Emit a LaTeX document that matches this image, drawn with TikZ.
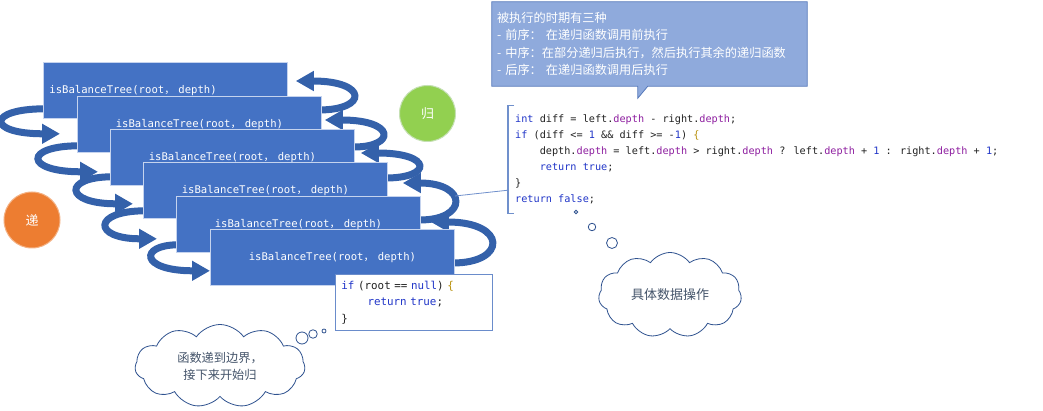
\documentclass[tikz,border=0pt]{standalone}
\usepackage{fontspec}
\usetikzlibrary{arrows.meta,calc,shapes.symbols,backgrounds}
\newfontfamily\cjk{Noto Sans CJK SC}
\newfontfamily\codefont{DejaVu Sans Mono}
\definecolor{boxblue}{HTML}{4472C4}
\definecolor{boxedge}{HTML}{C5D3EE}
\definecolor{spinc}{HTML}{3461AA}
\definecolor{callfill}{HTML}{8FAADC}
\definecolor{calledge}{HTML}{5679BA}
\definecolor{kwc}{HTML}{2035C8}
\definecolor{memc}{HTML}{8E1FA0}
\definecolor{brc}{HTML}{B8900A}
\definecolor{codec}{HTML}{222222}
\definecolor{orangec}{HTML}{ED7D31}
\definecolor{orangeedge}{HTML}{F4B183}
\definecolor{greenc}{HTML}{92D050}
\definecolor{greenedge}{HTML}{C5E0B4}
\definecolor{cloudedge}{HTML}{2F528F}
\definecolor{cloudtext}{HTML}{44546A}
\definecolor{brkc}{HTML}{7090CC}
\definecolor{baseedge}{HTML}{6A8CCB}
\newcommand\ckw[1]{\textcolor{kwc}{#1}}
\newcommand\cmem[1]{\textcolor{memc}{#1}}
\newcommand\cbr[1]{\textcolor{brc}{#1}}
\newcommand\codeind{\phantom{0000}}
\newcommand\calltxt{isBalanceTree(root{\cjk ，} depth)}
% left spiral arrow: box, tail dy, control x, tip x, tip y (relative to box south west)
\newcommand\leftspin[5]{\draw[spin] ($(#1.south west)+(2,#2)$) .. controls ($(#1.south west)+(#3,#2)$) and ($(#1.south west)+(#3,#5)$) .. ($(#1.south west)+(#4,#5)$);}
% right spiral arrow: box, tail x, tail y, control x, tip x, tip y (relative to box north east)
\newcommand\rightspin[6]{\draw[spin] ($(#1.north east)+(#2,#3)$) .. controls ($(#1.north east)+(#4,#3)$) and ($(#1.north east)+(#4,#6)$) .. ($(#1.north east)+(#5,#6)$);}
\tikzset{
  stackbox/.style={rectangle, fill=boxblue, draw=boxedge, line width=0.8pt,
    minimum width=244, minimum height=56, text width=232, inner xsep=6, inner ysep=0,
    text=white, font=\codefont\fontsize{10.6}{12}\selectfont, anchor=north west, align=center},
  spin/.style={draw=spinc, line width=7pt, -{Triangle[length=18pt,width=19pt]}},
  codeblock/.style={anchor=west, inner sep=0, minimum height=107, align=left, text=codec,
    font=\codefont\fontsize{10.2}{16}\selectfont},
  basebox/.style={rectangle, draw=baseedge, line width=0.9pt, fill=white, minimum width=157,
    minimum height=56, text width=145, inner xsep=6, inner ysep=0, align=left, text=codec,
    font=\codefont\fontsize{10.85}{16.5}\selectfont, anchor=north west},
  roundtag/.style={circle, minimum size=56, line width=1pt, text=white, inner sep=0,
    font=\cjk\fontsize{13}{13}\selectfont},
  cloudbox/.style={cloud, cloud puffs=11, cloud puff arc=110, cloud ignores aspect,
    draw=cloudedge, line width=0.8pt, fill=white, align=center, text=cloudtext, inner sep=0},
  bubble/.style={circle, draw=cloudedge, line width=0.8pt, fill=white, inner sep=0},
  calloutbox/.style={rectangle, minimum width=315, minimum height=84, text width=305,
    inner xsep=5, inner ysep=0, align=left, text=white,
    font=\cjk\fontsize{12.2}{17.5}\selectfont},
}
\begin{document}
\begin{tikzpicture}[x=1pt,y=-1pt]
\useasboundingbox (0,0) rectangle (1043,411);

% stacked call boxes
\node[stackbox, align=left] (b1) at (43,62) {\calltxt};
\node[stackbox] (b2) at (77,96) {\calltxt};
\node[stackbox] (b3) at (110,129) {\calltxt};
\node[stackbox] (b4) at (143,162) {\calltxt};
\node[stackbox] (b5) at (176,196) {\calltxt};
\node[stackbox] (b6) at (210,229) {\calltxt};

% base case code
\node[basebox] (base) at (335,274) {\ckw{if} (root == \ckw{null}) \cbr{\{}\\
\codeind\ckw{return} \ckw{true};\\
\}};

% code block with bracket
\node[codeblock] (code) at (515,159.5) {\ckw{int} diff = left.\cmem{depth} - right.\cmem{depth};\\
\ckw{if} (diff <= \ckw{1} \&\& diff >= -\ckw{1}) \cbr{\{}\\
\codeind depth.\cmem{depth} = left.\cmem{depth} > right.\cmem{depth} ? left.\cmem{depth} + \ckw{1} : right.\cmem{depth} + \ckw{1};\\
\codeind\ckw{return} \ckw{true};\\
\}\\
\ckw{return} \ckw{false};};
\draw[brkc, line width=1.1pt] ($(code.north west)+(-1,0)$) -- ($(code.north west)+(-7,0)$) -- ($(code.south west)+(-7,0)$) -- ($(code.south west)+(-1,0)$);
\coordinate (lead) at (455,196);
\draw[brkc, line width=0.8pt] (lead) -- ($(code.south west)+(-7,-23)$);

% round tags
\node[roundtag, fill=orangec, draw=orangeedge] (di) at (32,220) {递};
\node[roundtag, fill=greenc, draw=greenedge] (gui) at (427.5,113.5) {归};

% clouds
\node[cloudbox, minimum width=170, minimum height=83, font=\cjk\fontsize{12.2}{17}\selectfont] (c1) at (220,366) {函数递到边界，\\接下来开始归};
\node[bubble, minimum size=12] (c1a) at (302,338) {};
\node[bubble, minimum size=8.5] (c1b) at (313,334) {};
\node[bubble, minimum size=4] (c1c) at (324,331) {};

\node[cloudbox, minimum width=143, minimum height=85, font=\cjk\fontsize{13}{13}\selectfont] (c2) at (670,295) {具体数据操作};
\node[bubble, minimum size=3.5] (c2a) at (576,212) {};
\node[bubble, minimum size=7.5] (c2b) at (592,227) {};
\node[bubble, minimum size=11] (c2c) at (612,243) {};

% callout
\node[calloutbox] (callout) at (649.5,44) {被执行的时期有三种\\- 前序： 在递归函数调用前执行\\- 中序：在部分递归后执行，然后执行其余的递归函数\\- 后序： 在递归函数调用后执行};

\begin{scope}[on background layer]
\fill[white] (0,0) rectangle (1043,411);
\filldraw[fill=callfill, draw=calledge, line width=0.8pt] (callout.north west) -- (callout.north east) -- (callout.south east) -- ($(callout.south west)+(156,0)$) -- ($(callout.south west)+(146,12)$) -- ($(callout.south west)+(146,0)$) -- (callout.south west) -- cycle;
% left spirals (recursion going down)
\leftspin{b1}{-10}{-56.5}{17}{15}
\leftspin{b2}{-7}{-53.2}{21}{19}
\leftspin{b3}{-9}{-46.8}{23}{18}
\leftspin{b4}{-8}{-50.7}{14}{20}
\leftspin{b5}{-8}{-36.7}{34}{18}
% right spirals (returning up)
\rightspin{b1}{31}{48}{80.2}{8}{19}
\rightspin{b2}{32}{51}{74.2}{3}{24}
\rightspin{b3}{31}{49}{77.8}{6}{24}
\rightspin{b4}{32}{58}{80.2}{15}{21}
\rightspin{b5}{32}{67}{86.3}{10}{26}
\end{scope}
\end{tikzpicture}
\end{document}
